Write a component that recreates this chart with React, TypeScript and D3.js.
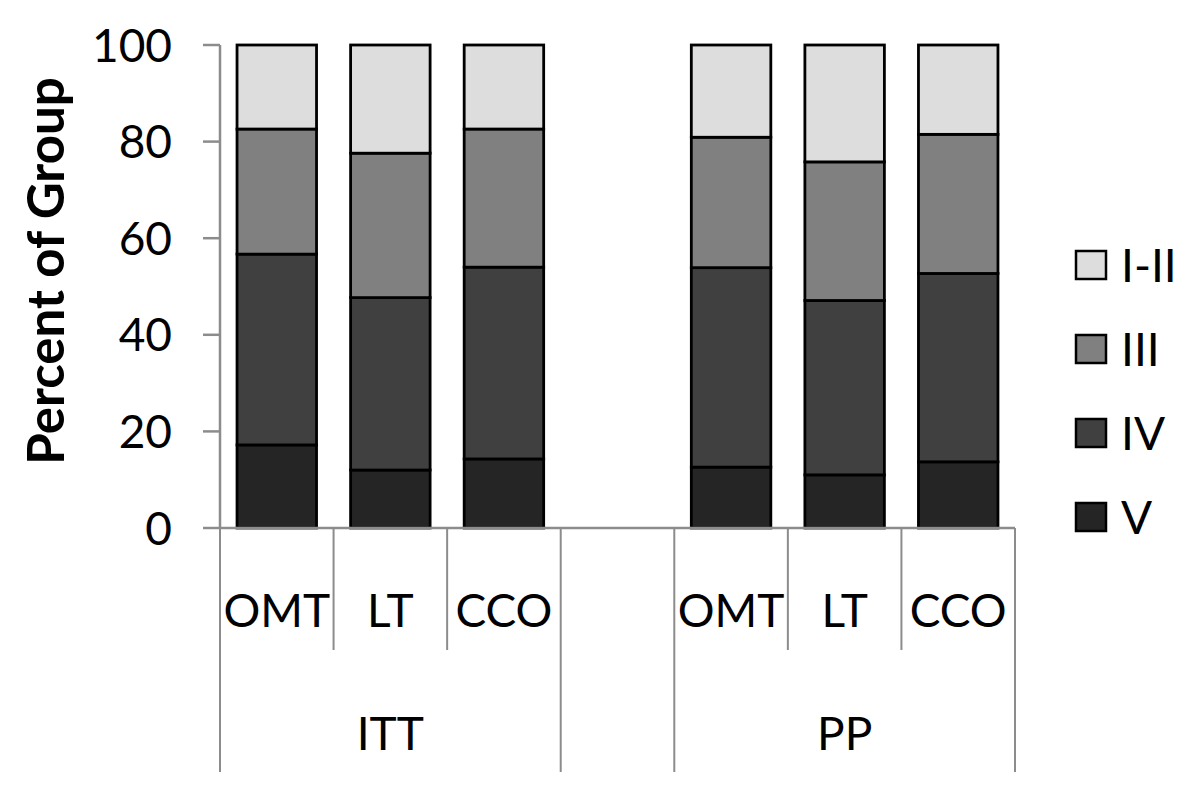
import React from "react";
import * as d3 from "d3";

const groups = ["ITT", "PP"];
const treatments = ["OMT", "LT", "CCO"];
const seriesNames = ["V", "IV", "III", "I-II"];
const vValues = [17.2, 12.0, 14.3, 12.6, 11.0, 13.7];
const ivValues = [39.5, 35.7, 39.7, 41.3, 36.1, 39.0];
const iiiValues = [25.9, 29.9, 28.6, 27.0, 28.7, 28.8];
const iiValues = [17.4, 22.4, 17.4, 19.1, 24.2, 18.5];
const yTicks = [0, 20, 40, 60, 80, 100];
const colors: Record<string, string> = { V: "#252525", IV: "#404040", III: "#808080", "I-II": "#dddddd" };

const FONT = "Lato, 'Open Sans', sans-serif";

export default function App() {
  const W = 1200, H = 792;
  const left = 220, right = 1015, top = 45, bottom = 528;
  const slots: string[] = [];
  groups.forEach((g, gi) => {
    treatments.forEach((t) => slots.push(`${g}|${t}`));
    if (gi < groups.length - 1) slots.push(`gap${gi}`);
  });
  const x = d3.scaleBand<string>().domain(slots).range([left, right]).paddingInner(0.3).paddingOuter(0.15);
  const y = d3.scaleLinear().domain([0, 100]).range([bottom, top]);
  const step = x.step();

  const rows = slots
    .filter((s) => !s.startsWith("gap"))
    .map((s, i) => ({ key: s, V: vValues[i], IV: ivValues[i], III: iiiValues[i], "I-II": iiValues[i] }));
  const stacked = d3.stack<any>().keys(seriesNames)(rows);

  const axisColor = "#8c8c8c";
  const boundaries = d3.range(slots.length + 1).map((i) => left + i * step);
  const fullIdx = new Set<number>([0, slots.length]);
  slots.forEach((s, i) => {
    if (s.startsWith("gap")) {
      fullIdx.add(i);
      fullIdx.add(i + 1);
    }
  });

  const legendY = [265, 349, 433, 517];
  const legendOrder = ["I-II", "III", "IV", "V"];

  return (
    <svg width={W} height={H} style={{ position: "absolute", left: 0, top: 0, background: "#fff" }} fontFamily={FONT}>
      {stacked.map((layer) => (
        <g key={layer.key}>
          {layer.map((d: any) => (
            <rect
              key={d.data.key}
              x={x(d.data.key)!}
              y={y(d[1])}
              width={x.bandwidth()}
              height={y(d[0]) - y(d[1])}
              fill={colors[layer.key]}
              stroke="#000"
              strokeWidth={2.8}
            />
          ))}
        </g>
      ))}
      <line x1={left} x2={left} y1={top} y2={bottom} stroke={axisColor} strokeWidth={2.5} />
      {yTicks.map((t) => (
        <g key={t}>
          <line x1={left - 17} x2={left} y1={y(t)} y2={y(t)} stroke={axisColor} strokeWidth={2.5} />
          <text x={172} y={y(t)} dy="0.36em" textAnchor="end" fontSize={46} fill="#000">
            {t}
          </text>
        </g>
      ))}
      <line x1={left} x2={right} y1={bottom} y2={bottom} stroke={axisColor} strokeWidth={2.5} />
      {boundaries.map((bx, i) => (
        <line
          key={i}
          x1={bx}
          x2={bx}
          y1={bottom}
          y2={fullIdx.has(i) ? 772 : 650}
          stroke={axisColor}
          strokeWidth={2}
        />
      ))}
      {slots
        .filter((s) => !s.startsWith("gap"))
        .map((s) => (
          <text key={s} x={x(s)! + x.bandwidth() / 2} y={610} dy="0.36em" textAnchor="middle" fontSize={46} fill="#000">
            {s.split("|")[1]}
          </text>
        ))}
      {groups.map((g) => {
        const xs = slots.filter((s) => s.startsWith(g + "|")).map((s) => x(s)! + x.bandwidth() / 2);
        const cx = (d3.min(xs)! + d3.max(xs)!) / 2;
        return (
          <text key={g} x={cx} y={733} dy="0.36em" textAnchor="middle" fontSize={46} fill="#000">
            {g}
          </text>
        );
      })}
      <text
        transform={`translate(64, 271) rotate(-90)`}
        textAnchor="middle"
        fontSize={51}
        fontWeight="bold"
        fill="#000"
      >
        Percent of Group
      </text>
      {legendOrder.map((k, i) => (
        <g key={k}>
          <rect x={1076} y={legendY[i] - 14} width={30} height={28} fill={colors[k]} stroke="#000" strokeWidth={2.5} />
          <text x={1121} y={legendY[i]} dy="0.36em" fontSize={46} fill="#000">
            {k}
          </text>
        </g>
      ))}
    </svg>
  );
}
